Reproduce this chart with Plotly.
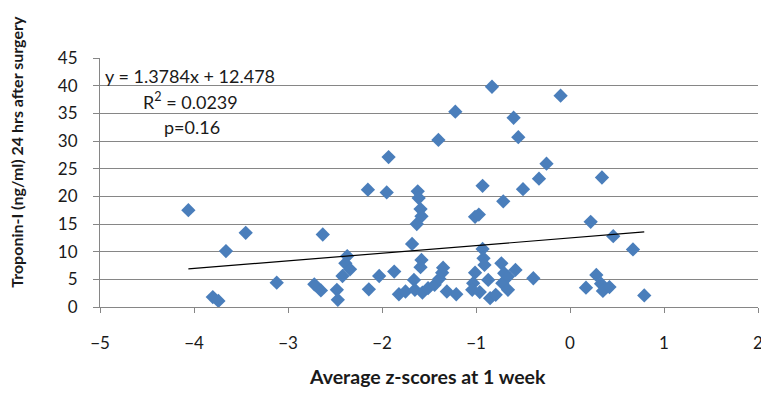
import plotly.graph_objects as go

# z-scores (x) and troponin-I values (y)
z_scores = [-4.06, -3.45, -3.66, -3.80, -3.74, -3.12, -2.72, -2.65, -2.63, -2.48,
            -2.47, -2.37, -2.39, -2.34, -2.42, -2.15, -1.95, -1.93, -2.03, -2.14,
            -1.87, -1.68, -1.62, -1.61, -1.59, -1.58, -1.63, -1.58, -1.59, -1.66,
            -1.82, -1.75, -1.65, -1.57, -1.51, -1.44, -1.39, -1.36, -1.35, -1.40,
            -1.22, -1.31, -1.21, -0.83, -0.60, -0.55, -0.93, -1.01, -0.97, -0.71,
            -0.50, -0.33, -0.25, -0.10, -0.93, -0.92, -0.91, -1.01, -1.03, -1.04,
            -0.96, -0.87, -0.85, -0.79, -0.73, -0.70, -0.72, -0.66, -0.58, -0.39,
            0.34, 0.22, 0.46, 0.67, 0.28, 0.17, 0.33, 0.35, 0.42, 0.79, -0.66]
troponin = [17.5, 13.4, 10.1, 1.8, 1.1, 4.4, 4.1, 3.0, 13.1, 3.1,
            1.3, 9.2, 7.9, 6.8, 5.6, 21.2, 20.7, 27.1, 5.6, 3.2,
            6.4, 11.4, 20.9, 19.7, 17.7, 16.4, 15.0, 8.5, 7.2, 4.9,
            2.3, 2.8, 3.1, 2.6, 3.4, 4.0, 5.1, 6.2, 7.1, 30.2,
            35.3, 2.8, 2.3, 39.8, 34.2, 30.7, 21.9, 16.3, 16.7, 19.1,
            21.3, 23.2, 25.9, 38.2, 10.5, 8.8, 7.6, 6.2, 4.3, 3.1,
            2.7, 4.9, 1.6, 2.2, 7.9, 6.1, 4.3, 3.1, 6.7, 5.2,
            23.4, 15.4, 12.8, 10.4, 5.8, 3.5, 4.2, 2.9, 3.6, 2.1, 5.5]

slope = 1.3784
intercept = 12.478
x_ticks = [-5, -4, -3, -2, -1, 0, 1, 2]
y_ticks = [0, 5, 10, 15, 20, 25, 30, 35, 40, 45]

FONT = "Lato"
TXT = "#1a1a1a"
GRID = "#868686"

fig = go.Figure()
fig.add_trace(go.Scatter(
    x=z_scores, y=troponin, mode="markers",
    marker=dict(symbol="diamond", size=11, color="#4A7EBB", line=dict(width=0)),
    showlegend=False, hoverinfo="skip"))

xmin, xmax = min(z_scores), max(z_scores)
fig.add_trace(go.Scatter(
    x=[xmin, xmax], y=[slope * xmin + intercept, slope * xmax + intercept],
    mode="lines", line=dict(color="black", width=1.2),
    showlegend=False, hoverinfo="skip"))

# page has an 8px body margin, so the figure is drawn at (8, 8)
fig.update_layout(
    width=761, height=386, autosize=False,
    margin=dict(l=92, r=11, t=50, b=87),
    paper_bgcolor="white", plot_bgcolor="white",
    font=dict(family=FONT, size=17, color=TXT),
    xaxis=dict(range=[-5, 2], tickvals=x_ticks, showgrid=False, zeroline=False,
               showline=True, linecolor=GRID, linewidth=1, automargin=False,
               ticks="outside", ticklen=5, tickcolor=GRID,
               ticklabelstandoff=16, tickfont=dict(size=17, color=TXT)),
    yaxis=dict(range=[0, 45], tickvals=y_ticks, showgrid=True, gridcolor=GRID, gridwidth=1,
               zeroline=False, showline=True, linecolor=GRID, linewidth=1, automargin=False,
               ticks="outside", ticklen=6, tickcolor=GRID,
               ticklabelstandoff=12, tickfont=dict(size=17, color=TXT)),
    annotations=[
        dict(text="<b>Troponin-I (ng/ml) 24 hrs after surgery</b>", textangle=-90,
             xref="paper", yref="paper", x=-0.127, y=0.625, xanchor="center", yanchor="middle",
             showarrow=False, font=dict(size=16, color=TXT)),
        dict(text="<b>Average z-scores at 1 week</b>",
             xref="paper", yref="paper", x=0.498, y=-0.281, xanchor="center", yanchor="middle",
             showarrow=False, font=dict(size=19.5, color=TXT)),
        dict(text="y = 1.3784x + 12.478", xref="paper", yref="paper",
             x=0.004, y=0.928, xanchor="left", yanchor="middle", showarrow=False,
             font=dict(size=18, color=TXT)),
        dict(text="R<sup>2</sup> = 0.0239", xref="paper", yref="paper",
             x=0.063, y=0.827, xanchor="left", yanchor="middle", showarrow=False,
             font=dict(size=18, color=TXT)),
        dict(text="p=0.16", xref="paper", yref="paper",
             x=0.094, y=0.723, xanchor="left", yanchor="middle", showarrow=False,
             font=dict(size=18, color=TXT)),
    ],
)

fig.write_html("out.html")
